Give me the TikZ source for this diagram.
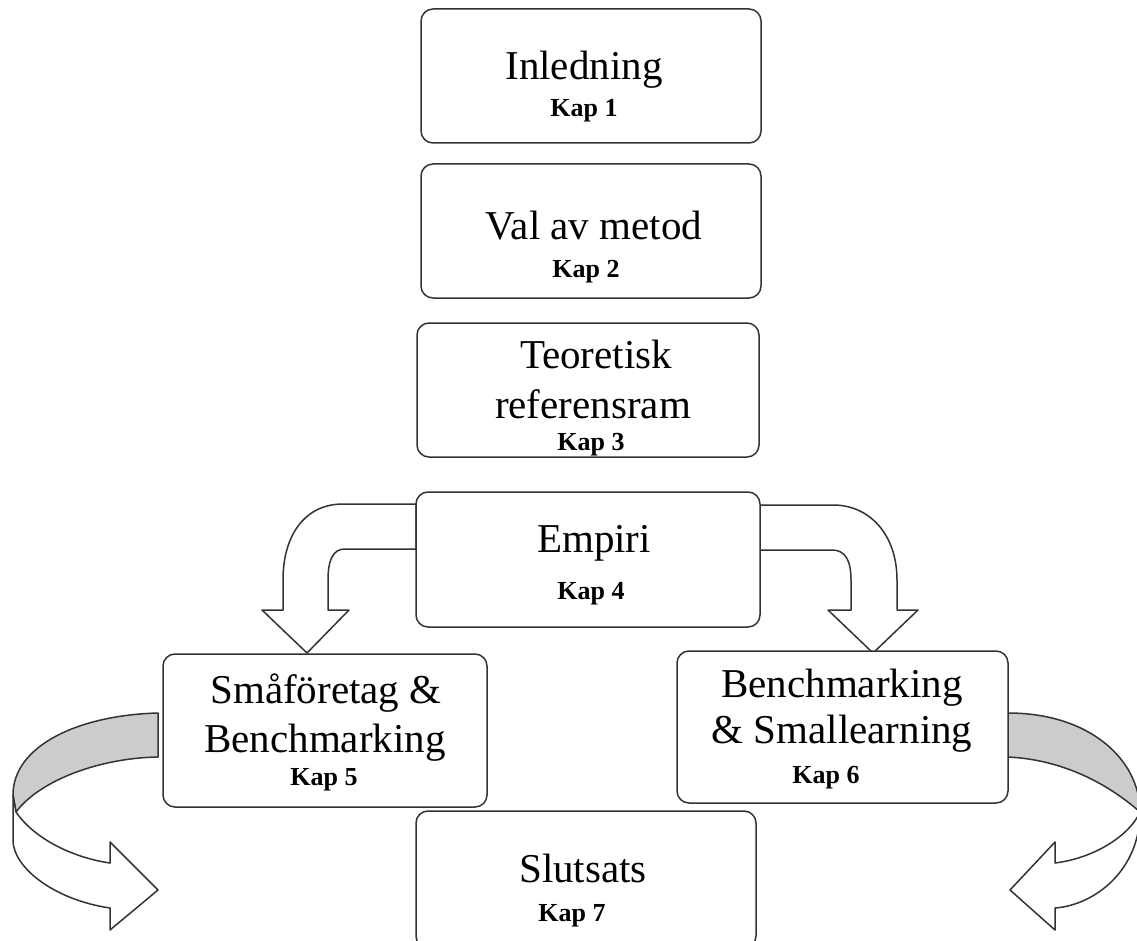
\documentclass[tikz,border=0pt]{standalone}
\usepackage{fontspec}
\setmainfont{Liberation Serif}
\begin{document}
\begin{tikzpicture}[x=1pt,y=-1pt,line join=round,
	box/.style={draw=black!80,line width=1.5pt,rounded corners=12pt,fill=white,inner sep=0pt},
	rubrik/.style={anchor=base,inner sep=0pt,font=\fontsize{41}{46}\selectfont},
	kap/.style={anchor=base,inner sep=0pt,font=\fontsize{26}{30}\selectfont\bfseries},
	pil/.style={draw=black!80,line width=1.5pt,fill=white}]
	\clip (0,0) rectangle (1137,941);
	% pilar fran Empiri
	\draw[pil] (416,504) -- (343,504) .. controls (305,504) and (283,535) .. (283,580) -- (283,610) -- (262,610) -- (307,653) -- (349,610) -- (328,610) -- (328,580) .. controls (328,560) and (333,549) .. (345,549) -- (416,549) -- cycle;
	\draw[pil] (760,505) -- (833,505) .. controls (870,505) and (897,535) .. (897,580) -- (897,610) -- (918,610) -- (873,653) -- (828,610) -- (851,610) -- (851,580) .. controls (851,560) and (845,550) .. (832,550) -- (760,550) -- cycle;
	% bojda pilar mot Slutsats
	\draw[pil,fill=black!20] (158,713) .. controls (80,715) and (13,745) .. (13,795) -- (16,812) .. controls (40,780) and (100,758) .. (158,757) -- cycle;
	\draw[pil] (13,795) -- (13,840) .. controls (13,868) and (55,900) .. (110,908) -- (110,930) -- (158,890) -- (110,842) -- (110,863) .. controls (75,858) and (35,840) .. (16,812) -- cycle;
	\draw[pil,fill=black!20] (1008,713) .. controls (1090,713) and (1140,760) .. (1140,812) .. controls (1115,790) and (1070,760) .. (1008,757) -- cycle;
	\draw[pil] (1140,812) .. controls (1140,870) and (1095,905) .. (1055,908) -- (1055,930) -- (1010,890) -- (1055,842) -- (1055,863) .. controls (1095,858) and (1130,835) .. (1140,812) -- cycle;
	% rutor
	\node[box,minimum width=340pt,minimum height=134pt] (inl) at (591,76) {};
	\node[box,minimum width=340pt,minimum height=134pt] (val) at (591,231) {};
	\node[box,minimum width=342pt,minimum height=134pt] (teo) at (588,390) {};
	\node[box,minimum width=344pt,minimum height=135pt] (emp) at (588,559.5) {};
	\node[box,minimum width=324pt,minimum height=153pt] (sma) at (325,730.5) {};
	\node[box,minimum width=331pt,minimum height=152pt] (ben) at (842.5,727) {};
	\node[box,minimum width=340pt,minimum height=137pt] (slu) at (586,879.5) {};
	% texter
	\node[rubrik] (inlT) at (584,80) {Inledning};
	\node[kap] (inlK) at (584,117) {Kap 1};
	\node[rubrik] (valT) at (594,240) {Val av metod};
	\node[kap] (valK) at (586,277) {Kap 2};
	\node[rubrik] (teoT) at (596,368) {Teoretisk};
	\node[rubrik] (teoT2) at (593,418) {referensram};
	\node[kap] (teoK) at (591,450) {Kap 3};
	\node[rubrik] (empT) at (594,552) {Empiri};
	\node[kap] (empK) at (591,599) {Kap 4};
	\node[rubrik] (smaT) at (326,703) {Småföretag \&};
	\node[rubrik] (smaT2) at (325,752) {Benchmarking};
	\node[kap] (smaK) at (324,785) {Kap 5};
	\node[rubrik] (benT) at (842,697) {Benchmarking};
	\node[rubrik] (benT2) at (842,743) {\& Smallearning};
	\node[kap] (benK) at (826,783) {Kap 6};
	\node[rubrik] (sluT) at (583,882) {Slutsats};
	\node[kap] (sluK) at (572,921) {Kap 7};
\end{tikzpicture}
\end{document}
